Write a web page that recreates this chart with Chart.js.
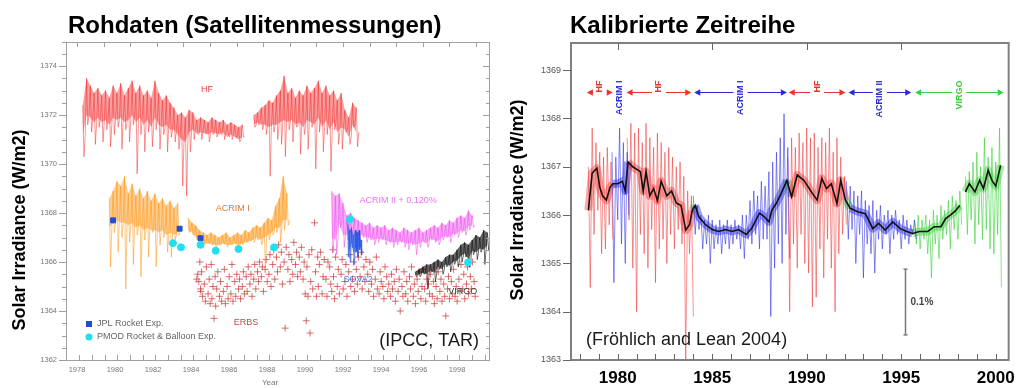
<!DOCTYPE html>
<html>
<head>
<meta charset="utf-8">
<script src="https://cdn.jsdelivr.net/npm/chart.js@4.4.0/dist/chart.umd.min.js"></script>
<style>
  html, body { margin: 0; padding: 0; background: #fff; }
  #wrap { position: relative; width: 1023px; height: 388px; overflow: hidden; }
  #rawBox { position: absolute; left: 0; top: 0; }
  #calBox { position: absolute; left: 500px; top: 0; }
</style>
</head>
<body>
<div id="wrap">
  <div id="rawBox"><canvas id="rawChart" width="500" height="388"></canvas></div>
  <div id="calBox"><canvas id="calChart" width="523" height="388"></canvas></div>
</div>
<script>
const FONT = "'Liberation Sans', Arial, Helvetica, sans-serif";
const STEP = 0.2; // years between readings of the noisy series

// ================== LEFT: RAW SATELLITE DATA ==================
const rawYearTicks = [1978, 1980, 1982, 1984, 1986, 1988, 1990, 1992, 1994, 1996, 1998];
const rawValueTicks = [1362, 1364, 1366, 1368, 1370, 1372, 1374];

// each noisy record: Hi = top of the dense band, Base = bottom of the band, Lo = tip of the downward spikes

// HF (Nimbus 7), first part
const hfRaw1Start = 1978.3;
const hfRaw1Hi = [1372.4, 1373.5, 1373.2, 1372.9, 1373.1, 1372.8, 1373.0, 1372.7, 1373.2, 1372.9,
  1373.3, 1372.8, 1373.1, 1373.4, 1372.9, 1373.2, 1372.8, 1373.0, 1372.7, 1373.4,
  1372.9, 1372.6, 1372.8, 1372.5, 1372.3, 1372.0, 1372.1, 1371.9, 1372.2, 1372.1,
  1371.8, 1371.9, 1371.8, 1371.7, 1371.9, 1371.8, 1371.7, 1371.8, 1371.6, 1371.7,
  1371.6, 1371.5, 1371.6];
const hfRaw1Base = [1371.2, 1372.0, 1371.9, 1371.7, 1371.9, 1371.7, 1371.8, 1371.6, 1371.9, 1371.8,
  1371.9, 1371.7, 1371.8, 1372.0, 1371.7, 1371.9, 1371.6, 1371.8, 1371.5, 1371.9,
  1371.6, 1371.5, 1371.6, 1371.4, 1371.4, 1371.2, 1371.0, 1370.9, 1371.3, 1371.4,
  1371.25, 1371.3, 1371.25, 1371.2, 1371.3, 1371.25, 1371.2, 1371.3, 1371.1, 1371.2,
  1371.1, 1371.0, 1371.1];
const hfRaw1Lo = [1370.3, 1371.6, 1371.3, 1370.8, 1371.5, 1370.9, 1371.4, 1370.7, 1371.2, 1371.5,
  1370.6, 1371.4, 1370.9, 1371.6, 1369.6, 1371.2, 1370.5, 1371.3, 1370.7, 1371.4,
  1370.6, 1371.2, 1370.5, 1371.1, 1370.9, 1370.6, 1369.1, 1368.7, 1370.5, 1371.0,
  1371.2, 1371.0, 1371.3, 1370.9, 1371.2, 1371.1, 1371.3, 1371.0, 1371.2, 1371.0,
  1371.1, 1370.9, 1371.1];
// HF, second part
const hfRaw2Start = 1987.3;
const hfRaw2Hi = [1372.0, 1372.1, 1372.3, 1372.4, 1372.6, 1372.5, 1372.8, 1373.0, 1373.6, 1372.9,
  1373.1, 1372.7, 1373.0, 1372.8, 1373.2, 1372.9, 1373.1, 1373.4, 1372.9, 1373.2,
  1372.8, 1373.0, 1372.6, 1372.9, 1372.2, 1371.9, 1372.5, 1372.3];
const hfRaw2Base = [1371.6, 1371.7, 1371.6, 1371.6, 1371.5, 1371.6, 1371.6, 1371.7, 1371.8, 1371.7,
  1371.8, 1371.6, 1371.7, 1371.5, 1371.8, 1371.7, 1371.6, 1371.9, 1371.5, 1371.8,
  1371.4, 1371.7, 1371.3, 1371.5, 1371.4, 1371.1, 1371.6, 1371.3];
const hfRaw2Lo = [1371.5, 1371.6, 1371.4, 1371.2, 1369.5, 1371.3, 1371.0, 1370.8, 1370.3, 1371.4,
  1370.9, 1371.5, 1370.4, 1371.2, 1370.6, 1371.5, 1369.8, 1371.3, 1370.5, 1371.2,
  1369.7, 1371.4, 1370.8, 1370.6, 1371.3, 1370.8, 1371.5, 1370.7];

// ACRIM I
const acrim1Raw1Start = 1979.7;
const acrim1Raw1Hi = [1368.6, 1368.9, 1369.3, 1369.1, 1369.5, 1368.8, 1369.2, 1368.7, 1369.0, 1368.6,
  1368.9, 1368.5, 1368.8, 1368.4, 1368.6, 1368.3, 1368.5, 1368.2, 1368.4];
const acrim1Raw1Base = [1367.4, 1367.6, 1367.7, 1367.6, 1367.6, 1367.5, 1367.6, 1367.4, 1367.5, 1367.3,
  1367.4, 1367.3, 1367.3, 1367.2, 1367.3, 1367.1, 1367.2, 1367.1, 1367.2];
const acrim1Raw1Lo = [1365.8, 1367.2, 1366.4, 1367.0, 1364.9, 1366.8, 1365.9, 1367.1, 1365.4, 1366.9,
  1366.2, 1367.2, 1365.8, 1366.7, 1367.0, 1366.4, 1366.2, 1366.9, 1367.1];
const acrim1Raw2Start = 1983.85;
const acrim1Raw2Hi = [1367.8, 1367.6, 1367.5, 1367.3, 1367.2, 1367.1, 1367.2, 1367.1, 1367.0, 1367.1,
  1367.2, 1367.0, 1367.1, 1367.2, 1367.1, 1367.3, 1367.2, 1367.4, 1367.5, 1367.4,
  1367.6, 1367.8, 1367.7, 1368.3, 1368.6, 1369.5, 1368.8];
const acrim1Raw2Base = [1367.3, 1367.2, 1367.0, 1366.9, 1366.8, 1366.75, 1366.75, 1366.7, 1366.7, 1366.75,
  1366.7, 1366.7, 1366.75, 1366.7, 1366.75, 1366.8, 1366.85, 1366.9, 1367.0, 1366.9,
  1367.0, 1367.1, 1367.2, 1367.4, 1367.4, 1367.7, 1367.7];
const acrim1Raw2Lo = [1367.2, 1367.1, 1366.9, 1366.8, 1366.7, 1366.8, 1366.7, 1366.6, 1366.7, 1366.8,
  1366.6, 1366.7, 1366.8, 1366.6, 1366.7, 1366.8, 1366.9, 1366.8, 1366.9, 1366.7,
  1365.7, 1366.9, 1367.1, 1367.2, 1366.8, 1367.3, 1367.5];

// ACRIM II + 0.120%
const acrim2RawStart = 1991.4;
const acrim2RawHi = [1368.9, 1368.7, 1368.8, 1368.4, 1367.9, 1368.0, 1367.8, 1367.7, 1367.6, 1367.5,
  1367.6, 1367.4, 1367.5, 1367.4, 1367.5, 1367.3, 1367.4, 1367.3, 1367.2, 1367.4,
  1367.3, 1367.2, 1367.3, 1367.4, 1367.2, 1367.3, 1367.4, 1367.5, 1367.4, 1367.6,
  1367.5, 1367.7, 1367.6, 1367.8, 1367.9, 1367.8, 1368.1, 1367.9];
const acrim2RawBase = [1367.0, 1366.9, 1367.6, 1367.1, 1367.1, 1367.2, 1367.05, 1367.1, 1367.1, 1367.0,
  1367.0, 1366.9, 1366.95, 1366.95, 1366.9, 1366.85, 1366.8, 1366.8, 1366.85, 1366.8,
  1366.75, 1366.8, 1366.7, 1366.75, 1366.85, 1366.75, 1366.95, 1366.9, 1366.85, 1367.0,
  1367.05, 1367.0, 1367.15, 1367.15, 1367.3, 1367.25, 1367.45, 1367.5];
const acrim2RawLo = [1366.4, 1366.3, 1367.4, 1366.6, 1366.9, 1367.0, 1366.8, 1366.9, 1367.0, 1366.8,
  1366.9, 1366.7, 1366.8, 1366.9, 1366.7, 1366.8, 1366.6, 1366.7, 1366.8, 1366.6,
  1366.5, 1366.7, 1366.3, 1366.6, 1366.8, 1366.6, 1366.9, 1366.8, 1366.7, 1366.9,
  1367.0, 1366.8, 1367.1, 1367.0, 1367.2, 1367.1, 1367.3, 1367.4];

// SOVA2 (0.1 year steps)
const sova2Start = 1992.25;
const sova2Hi = [1367.6, 1367.3, 1367.4, 1367.1, 1367.3, 1367.2, 1367.3, 1366.9];
const sova2Base = [1366.6, 1366.4, 1366.8, 1366.3, 1366.6, 1366.4, 1366.7, 1366.5];
const sova2Lo = [1366.2, 1366.0, 1366.6, 1365.9, 1366.4, 1366.2, 1366.5, 1366.3];

// VIRGO
const virgoRawStart = 1995.8;
const virgoRawHi = [1365.6, 1365.7, 1365.8, 1365.9, 1365.9, 1366.0, 1366.1, 1366.0, 1366.2, 1366.3,
  1366.3, 1366.5, 1366.7, 1366.8, 1366.7, 1366.9, 1367.1, 1367.0, 1367.3, 1367.2];
const virgoRawBase = [1365.45, 1365.5, 1365.55, 1365.5, 1365.65, 1365.55, 1365.8, 1365.7, 1365.9, 1365.85,
  1366.0, 1366.05, 1366.25, 1366.35, 1366.1, 1366.45, 1366.4, 1366.55, 1366.5, 1366.7];
const virgoRawLo = [1365.4, 1365.4, 1365.5, 1364.9, 1365.6, 1365.2, 1365.7, 1365.5, 1365.8, 1365.6,
  1365.9, 1365.8, 1366.0, 1366.2, 1365.8, 1366.3, 1366.1, 1366.4, 1365.9, 1366.5];

// ERBS: readings grouped per 0.2 year bin, starting 1984.3
const erbsStart = 1984.3;
const erbsValues = [
  [1365.3, 1365.5, 1365.2, 1366.0, 1364.8], [1364.9, 1365.6, 1364.6], [1365.1, 1364.4, 1365.8],
  [1364.7, 1365.3, 1364.3, 1365.9], [1364.5, 1365.0, 1363.7, 1365.4], [1364.2, 1364.9, 1365.6],
  [1364.6, 1365.2, 1364.4], [1364.8, 1365.7, 1364.3], [1365.0, 1364.5, 1365.4],
  [1364.7, 1365.9, 1364.4], [1365.2, 1364.6, 1365.5], [1364.9, 1365.3, 1364.5],
  [1365.0, 1365.6, 1364.7], [1365.4, 1364.8, 1365.8], [1365.1, 1365.5, 1364.6],
  [1365.3, 1365.9, 1364.9], [1365.6, 1365.2, 1366.0], [1365.4, 1365.8, 1364.8],
  [1365.7, 1366.1, 1365.2], [1365.5, 1366.3, 1365.0], [1365.9, 1366.5, 1365.3],
  [1366.2, 1365.6, 1366.7], [1365.8, 1366.4, 1365.1], [1366.0, 1363.3, 1366.6],
  [1365.7, 1366.3, 1365.2], [1366.1, 1365.5, 1366.8], [1365.9, 1366.4, 1365.4],
  [1366.2, 1365.6, 1366.6], [1365.3, 1366.0, 1364.7, 1363.6], [1365.8, 1364.6, 1366.3, 1363.1],
  [1365.2, 1366.5, 1364.9], [1367.6, 1365.6, 1364.6, 1366.2], [1365.0, 1365.9, 1366.4],
  [1364.7, 1365.4, 1366.1], [1365.3, 1364.6, 1366.0], [1365.8, 1365.1, 1364.8, 1366.5],
  [1365.4, 1364.5, 1366.2], [1365.0, 1365.7, 1364.7], [1365.5, 1366.1, 1364.9],
  [1365.2, 1365.9, 1364.6], [1365.6, 1366.3, 1365.0], [1365.3, 1366.0, 1364.8],
  [1365.7, 1365.1, 1366.2], [1365.4, 1366.4, 1364.9], [1365.8, 1365.2, 1366.1],
  [1365.5, 1364.8, 1366.0], [1365.1, 1365.7, 1364.6], [1365.3, 1366.2, 1364.9],
  [1364.7, 1365.6, 1365.2], [1365.0, 1364.5, 1365.8], [1365.4, 1364.8, 1365.1],
  [1364.6, 1365.5, 1364.9], [1365.2, 1364.4, 1365.7], [1364.8, 1365.3, 1364.0],
  [1365.0, 1364.6, 1365.6], [1364.7, 1365.2, 1364.4], [1365.4, 1364.9, 1365.8],
  [1364.6, 1365.1, 1364.3], [1365.3, 1364.8, 1365.6], [1364.5, 1365.0, 1365.7],
  [1364.9, 1364.4, 1365.3], [1365.1, 1364.7, 1365.5], [1364.6, 1365.2, 1364.3],
  [1365.0, 1364.5, 1365.6], [1364.8, 1365.3, 1364.4], [1365.1, 1364.6, 1363.8],
  [1364.9, 1365.4, 1364.5], [1365.2, 1364.7, 1365.7], [1364.6, 1365.0, 1364.4],
  [1365.3, 1364.8, 1365.9], [1364.9, 1365.5, 1364.5], [1365.1, 1365.8, 1364.7],
  [1365.4, 1364.9, 1366.0], [1365.2, 1364.6]
];

// rocket / balloon calibration flights
const jplYears = [1979.9, 1983.4, 1984.5];
const jplValues = [1367.7, 1367.36, 1366.97];
const pmodYears = [1983.05, 1983.47, 1984.5, 1985.3, 1986.5, 1988.37, 1992.37, 1998.58];
const pmodValues = [1366.77, 1366.6, 1366.7, 1366.46, 1366.53, 1366.6, 1367.75, 1365.98];

// in-plot instrument names
const rawLabelText = ["HF", "ACRIM I", "ACRIM II + 0.120%", "SOVA2", "VIRGO", "ERBS"];
const rawLabelYear = [1984.84, 1986.2, 1994.9, 1992.8, 1998.3, 1986.9];
const rawLabelValue = [1373.06, 1368.2, 1368.5, 1365.27, 1364.8, 1363.55];
const rawLabelColor = ["#f04040", "#e07a2c", "#f070f0", "#5070e0", "#3a3a3a", "#c84848"];

// ================== RIGHT: CALIBRATED COMPOSITE ==================
const calYearTicks = [1980, 1985, 1990, 1995, 2000];
const calValueTicks = [1363, 1364, 1365, 1366, 1367, 1368, 1369];

const calHf1Start = 1978.45;
const calHf1Hi = [1367.0, 1367.8, 1367.5, 1367.3, 1367.2, 1367.4, 1367.1];
const calHf1Lo = [1364.5, 1365.6, 1366.1, 1365.2, 1365.3, 1365.8, 1365.5];
const calAcrim1aStart = 1979.7;
const calAcrim1aHi = [1367.3, 1367.2, 1367.8, 1367.5, 1367.3];
const calAcrim1aLo = [1364.6, 1365.9, 1365.4, 1365.0, 1366.0];
const calHf2Start = 1980.5;
const calHf2Hi = [1367.6, 1367.9, 1367.7, 1367.8, 1367.5, 1367.9, 1367.6, 1367.4, 1367.7, 1367.5,
  1367.3, 1367.4, 1367.2, 1367.0, 1367.1, 1366.8, 1366.5, 1366.4];
const calHf2Lo = [1365.9, 1364.9, 1364.0, 1365.6, 1365.2, 1364.9, 1365.7, 1364.6, 1365.3, 1365.5,
  1365.0, 1365.6, 1365.3, 1365.7, 1365.4, 1363.0, 1365.2, 1363.9];
const calAcrim1bStart = 1984.0;
const calAcrim1bHi = [1366.4, 1366.2, 1366.0, 1365.9, 1366.0, 1365.9, 1365.8, 1365.9, 1365.8, 1365.9,
  1365.8, 1365.9, 1365.8, 1366.0, 1366.0, 1366.3, 1366.5, 1366.4, 1366.7, 1366.6,
  1366.9, 1367.1, 1367.3, 1367.6, 1368.1, 1367.4];
const calAcrim1bLo = [1365.6, 1365.7, 1365.3, 1365.4, 1365.0, 1365.3, 1365.4, 1365.2, 1365.4, 1365.3,
  1365.4, 1365.5, 1365.3, 1365.1, 1365.5, 1365.4, 1365.6, 1365.3, 1365.5, 1365.5,
  1363.9, 1364.9, 1365.4, 1365.0, 1365.6, 1365.1];
const calHf3Start = 1989.0;
const calHf3Hi = [1367.2, 1367.6, 1367.4, 1367.7, 1367.5, 1367.8, 1367.6, 1367.7, 1367.4, 1367.6,
  1367.5, 1367.8, 1367.3, 1367.6, 1367.2, 1366.8];
const calHf3Lo = [1364.0, 1365.4, 1364.9, 1365.6, 1365.0, 1364.8, 1364.1, 1364.3, 1365.3, 1364.7,
  1365.5, 1364.9, 1364.0, 1365.2, 1365.6, 1365.8];
const calAcrim2Start = 1992.1;
const calAcrim2Hi = [1366.7, 1366.6, 1366.5, 1366.4, 1366.5, 1366.3, 1366.2, 1366.3, 1366.1, 1366.2,
  1366.0, 1366.1, 1366.0, 1366.1, 1365.9, 1366.0, 1365.9, 1365.8, 1365.9];
const calAcrim2Lo = [1365.5, 1365.7, 1365.0, 1365.6, 1364.7, 1365.4, 1365.2, 1364.8, 1365.5, 1365.3,
  1365.6, 1365.2, 1365.5, 1365.6, 1365.3, 1365.5, 1365.4, 1365.6, 1365.5];
const calVirgo1Start = 1995.7;
const calVirgo1Hi = [1365.9, 1366.0, 1365.9, 1366.0, 1365.9, 1366.1, 1366.0, 1366.2, 1366.1, 1366.3,
  1366.4, 1366.3, 1366.5];
const calVirgo1Lo = [1365.4, 1365.3, 1365.5, 1365.2, 1364.7, 1365.4, 1365.1, 1365.5, 1365.6, 1365.3,
  1365.7, 1365.5, 1365.8];
const calVirgo2Start = 1998.4;
const calVirgo2Hi = [1366.8, 1366.9, 1367.1, 1367.3, 1367.0, 1367.6, 1367.2, 1367.4, 1367.1, 1367.8];
const calVirgo2Lo = [1365.6, 1365.9, 1365.4, 1365.8, 1365.5, 1365.7, 1365.3, 1365.2, 1365.6, 1364.5];

// 81-day running mean (black)
const calMeanYear = [1978.45, 1978.65, 1978.9, 1979.05, 1979.2, 1979.4, 1979.6, 1979.75, 1980.0, 1980.25,
  1980.4, 1980.55, 1980.8, 1981.2, 1981.35, 1981.5, 1981.7, 1981.9, 1982.1, 1982.3,
  1982.6, 1982.85, 1983.1, 1983.35, 1983.6, 1983.8, 1983.95, 1984.1, 1984.3, 1984.65,
  1985.0, 1985.35, 1985.7, 1986.05, 1986.4, 1986.8, 1987.1, 1987.5, 1987.75, 1988.0,
  1988.15, 1988.4, 1988.65, 1988.95, 1989.2, 1989.5, 1989.85, 1990.3, 1990.55, 1990.8,
  1991.05, 1991.3, 1991.6, 1991.8, 1992.05, 1992.3, 1992.7, 1993.1, 1993.5, 1993.8,
  1994.15, 1994.55, 1994.95, 1995.3, 1995.6, 1995.95, 1996.4, 1996.75, 1997.1, 1997.35,
  1997.6, 1997.85, 1998.1, 1998.25, 1998.4, 1998.6, 1998.9, 1999.15, 1999.35, 1999.6,
  1999.8, 2000.0, 2000.26];
const calMeanValue = [1366.1, 1366.87, 1366.97, 1366.58, 1366.4, 1366.31, 1366.58, 1366.65, 1366.65, 1366.7,
  1366.5, 1367.1, 1367.0, 1366.9, 1366.5, 1366.9, 1366.4, 1366.55, 1366.3, 1366.7,
  1366.4, 1366.5, 1366.25, 1366.2, 1365.69, 1365.8, 1366.1, 1366.2, 1365.96, 1365.8,
  1365.7, 1365.66, 1365.7, 1365.66, 1365.7, 1365.6, 1365.73, 1366.04, 1365.97, 1365.86,
  1366.1, 1366.25, 1366.45, 1366.72, 1366.38, 1366.83, 1366.72, 1366.45, 1366.31, 1366.76,
  1366.55, 1366.65, 1366.24, 1366.72, 1366.31, 1366.14, 1366.07, 1366.03, 1365.72, 1365.83,
  1365.69, 1365.86, 1365.72, 1365.66, 1365.62, 1365.66, 1365.66, 1365.76, 1365.76, 1365.93,
  1366.0, 1366.08, 1366.2, null, 1366.48, 1366.65, 1366.48, 1366.72, 1366.55, 1366.93,
  1366.72, 1366.6, 1367.03];

// instrument periods used in the composite
const periodNames = ["HF", "ACRIM I", "HF", "ACRIM I", "HF", "ACRIM II", "VIRGO"];
const periodStart = [1978.37, 1979.74, 1980.47, 1984.05, 1989.05, 1992.21, 1995.74];
const periodEnd = [1979.74, 1980.47, 1983.89, 1988.95, 1992.05, 1995.53, 2000.42];
const periodColor = ["#e8352e", "#2a2ad6", "#e8352e", "#2a2ad6", "#e8352e", "#2a2ad6", "#3ccf3c"];
const periodBand = ["rgba(240,40,40,0.4)", "rgba(40,40,225,0.45)", "rgba(240,40,40,0.4)",
  "rgba(40,40,225,0.45)", "rgba(240,40,40,0.4)", "rgba(40,40,225,0.45)", "rgba(40,200,40,0.4)"];

// ================== HELPERS ==================
function zigzag(start, step, hi, lo) {
  const pts = [];
  hi.forEach((h, i) => {
    pts.push({ x: start + i * step, y: h });
    pts.push({ x: start + (i + 0.5) * step, y: lo[i] });
  });
  return pts;
}

// top -> spike tip -> band bottom, per reading
function zigzag3(start, step, hi, lo, base) {
  const pts = [];
  hi.forEach((h, i) => {
    pts.push({ x: start + i * step, y: h });
    pts.push({ x: start + (i + 0.33) * step, y: lo[i] });
    pts.push({ x: start + (i + 0.66) * step, y: base[i] });
  });
  return pts;
}

function series(start, step, values) {
  return values.map((v, i) => ({ x: start + i * step, y: v }));
}

function noisy(data, color, width) {
  return { type: "line", data, borderColor: color, borderWidth: width || 1, pointRadius: 0, tension: 0, order: 5 };
}

// dense band (filled between Hi and Base) plus thin spikes
function addBand(list, start, step, hi, base, lo, lineColor, bandColor) {
  const idx = list.length;
  list.push({ type: "line", data: series(start, step, hi), borderColor: "transparent", borderWidth: 0,
    pointRadius: 0, tension: 0, fill: false, order: 5 });
  list.push({ type: "line", data: series(start, step, base), borderColor: "transparent", borderWidth: 0,
    pointRadius: 0, tension: 0, fill: { target: idx }, backgroundColor: bandColor, order: 5 });
  list.push(noisy(zigzag3(start, step, hi, lo, base), lineColor, 0.9));
}

function pairs(xs, ys) {
  return xs.map((x, i) => ({ x, y: ys[i] }));
}

function tick(ctx, x1, y1, x2, y2) {
  ctx.beginPath();
  ctx.moveTo(x1, y1);
  ctx.lineTo(x2, y2);
  ctx.stroke();
}

function vText(ctx, text, x, y, font, color, align) {
  ctx.save();
  ctx.translate(x, y);
  ctx.rotate(-Math.PI / 2);
  ctx.font = font;
  ctx.fillStyle = color;
  ctx.textAlign = align || "center";
  ctx.textBaseline = "middle";
  ctx.fillText(text, 0, 0);
  ctx.restore();
}

function bandColorAt(year) {
  for (let i = 0; i < periodStart.length; i++) {
    if (year >= periodStart[i] - 0.05 && year < periodEnd[i]) return periodBand[i];
  }
  return periodBand[periodBand.length - 1];
}

const erbsPoints = [];
erbsValues.forEach((bin, i) => {
  bin.forEach((v, j) => erbsPoints.push({ x: erbsStart + i * STEP + j * 0.055, y: v }));
});

// ================== LEFT CHART ==================
const rawDecor = {
  id: "rawDecor",
  afterDraw(chart) {
    const { ctx, chartArea: a, scales: { x, y } } = chart;
    ctx.save();
    ctx.strokeStyle = "#a0a0a0";
    ctx.lineWidth = 1;
    ctx.strokeRect(a.left + 0.5, a.top + 0.5, a.right - a.left - 1, a.bottom - a.top);
    for (let v = 1362; v <= 1375; v += 0.5) {
      const py = Math.round(y.getPixelForValue(v)) + 0.5;
      const len = v % 2 === 0 ? 7 : 4;
      tick(ctx, a.left - len, py, a.left, py);
      tick(ctx, a.right - len, py, a.right, py);
    }
    for (let t = 1978.13; t < 1999.7; t += 2 / 3) {
      const px = Math.round(x.getPixelForValue(t)) + 0.5;
      tick(ctx, px, a.bottom, px, a.bottom - 5);
    }
    for (let t = 1978.0; t < 1999.7; t += 1.4) {
      const px = Math.round(x.getPixelForValue(t)) + 0.5;
      tick(ctx, px, a.top, px, a.top + 5);
    }

    // instrument names
    ctx.font = "9px " + FONT;
    ctx.textAlign = "center";
    ctx.textBaseline = "middle";
    rawLabelText.forEach((t, i) => {
      ctx.fillStyle = rawLabelColor[i];
      ctx.fillText(t, x.getPixelForValue(rawLabelYear[i]), y.getPixelForValue(rawLabelValue[i]));
    });

    // legend
    ctx.fillStyle = "#1f4fd0";
    ctx.fillRect(86, 321, 6, 6);
    ctx.fillStyle = "#20e0f0";
    ctx.beginPath();
    ctx.arc(89, 337, 3.5, 0, Math.PI * 2);
    ctx.fill();
    ctx.fillStyle = "#666";
    ctx.textAlign = "left";
    ctx.fillText("JPL Rocket Exp.", 97, 324);
    ctx.fillText("PMOD Rocket & Balloon Exp.", 97, 337);

    // source
    ctx.font = "18px " + FONT;
    ctx.fillStyle = "#1a1a1a";
    ctx.textAlign = "right";
    ctx.fillText("(IPCC, TAR)", 479, 341);

    // axis titles
    ctx.font = "8px " + FONT;
    ctx.fillStyle = "#777";
    ctx.textAlign = "center";
    ctx.fillText("Year", 270, 383);
    vText(ctx, "Solar Irradiance (W/m2)", 20, 230, "bold 18px " + FONT, "#000");

    // title
    ctx.font = "bold 24px " + FONT;
    ctx.fillStyle = "#000";
    ctx.textAlign = "left";
    ctx.textBaseline = "alphabetic";
    ctx.fillText("Rohdaten (Satellitenmessungen)", 68, 33);
    ctx.restore();
  }
};

const rawSets = [
  { type: "scatter", data: pairs(pmodYears, pmodValues), pointStyle: "circle", pointRadius: 3.5,
    backgroundColor: "#20e0f0", borderColor: "#20e0f0", order: 0 },
  { type: "scatter", data: pairs(jplYears, jplValues), pointStyle: "rect", pointRadius: 3.5,
    backgroundColor: "#1f4fd0", borderColor: "#1f4fd0", order: 1 },
  { type: "scatter", data: erbsPoints, pointStyle: "cross", pointRadius: 3.5, borderWidth: 1,
    borderColor: "rgba(205,60,60,0.75)", order: 6 }
];
addBand(rawSets, virgoRawStart, STEP, virgoRawHi, virgoRawBase, virgoRawLo, "rgba(20,20,20,0.7)", "rgba(20,20,20,0.65)");
addBand(rawSets, sova2Start, 0.1, sova2Hi, sova2Base, sova2Lo, "rgba(30,80,230,0.7)", "rgba(30,80,230,0.6)");
addBand(rawSets, acrim2RawStart, STEP, acrim2RawHi, acrim2RawBase, acrim2RawLo, "rgba(240,70,240,0.6)", "rgba(240,70,240,0.45)");
addBand(rawSets, acrim1Raw1Start, STEP, acrim1Raw1Hi, acrim1Raw1Base, acrim1Raw1Lo, "rgba(255,150,20,0.6)", "rgba(255,145,10,0.45)");
addBand(rawSets, acrim1Raw2Start, STEP, acrim1Raw2Hi, acrim1Raw2Base, acrim1Raw2Lo, "rgba(255,150,20,0.6)", "rgba(255,145,10,0.5)");
addBand(rawSets, hfRaw1Start, STEP, hfRaw1Hi, hfRaw1Base, hfRaw1Lo, "rgba(245,40,40,0.55)", "rgba(240,30,30,0.42)");
addBand(rawSets, hfRaw2Start, STEP, hfRaw2Hi, hfRaw2Base, hfRaw2Lo, "rgba(245,40,40,0.55)", "rgba(240,30,30,0.42)");

new Chart(document.getElementById("rawChart"), {
  data: { datasets: rawSets },
  options: {
    responsive: false,
    animation: false,
    events: [],
    layout: { padding: { left: 0, right: 10, top: 42, bottom: 0 } },
    plugins: { legend: { display: false }, tooltip: { enabled: false } },
    scales: {
      x: {
        type: "linear", min: 1977.42, max: 1999.737,
        grid: { display: false, drawTicks: false }, border: { display: false },
        afterBuildTicks: (s) => { s.ticks = rawYearTicks.map((v) => ({ value: v })); },
        afterFit: (s) => { s.height = 28; },
        ticks: { padding: 5, color: "#777", font: { size: 7.5, family: FONT }, maxRotation: 0, callback: (v) => String(v) }
      },
      y: {
        type: "linear", min: 1362, max: 1374.98,
        grid: { display: false, drawTicks: false }, border: { display: false },
        afterBuildTicks: (s) => { s.ticks = rawValueTicks.map((v) => ({ value: v })); },
        afterFit: (s) => { s.width = 66; },
        ticks: { padding: 9, color: "#777", font: { size: 7.5, family: FONT }, callback: (v) => String(v) }
      }
    }
  },
  plugins: [rawDecor]
});

// ================== RIGHT CHART ==================
const calDecor = {
  id: "calDecor",
  afterDraw(chart) {
    const { ctx, chartArea: a, scales: { x, y } } = chart;
    ctx.save();
    ctx.strokeStyle = "#808080";
    ctx.lineWidth = 2;
    ctx.strokeRect(a.left, a.top, a.right - a.left, a.bottom - a.top);
    ctx.lineWidth = 1;
    ctx.strokeStyle = "#666";
    calValueTicks.forEach((v) => {
      const py = Math.round(y.getPixelForValue(v)) + 0.5;
      tick(ctx, a.left - 8, py, a.left, py);
    });
    for (let t = 1978; t <= 2000; t++) {
      const px = Math.round(x.getPixelForValue(t)) + 0.5;
      tick(ctx, px, a.bottom, px, a.bottom - 6);
    }
    calYearTicks.slice(0, 4).forEach((t) => {
      const px = Math.round(x.getPixelForValue(t)) + 0.5;
      tick(ctx, px, a.top, px, a.top + 7);
    });

    // instrument periods with arrows
    const py = Math.round(y.getPixelForValue(1368.555)) + 0.5;
    periodNames.forEach((name, i) => {
      const x1 = x.getPixelForValue(periodStart[i]);
      const x2 = x.getPixelForValue(periodEnd[i]);
      const xm = (x1 + x2) / 2;
      const col = periodColor[i];
      vText(ctx, name, xm, py - 12, "bold 9px " + FONT, col, "right");
      if (x2 - x1 < 20) return; // too short for arrows
      ctx.strokeStyle = col;
      ctx.fillStyle = col;
      ctx.lineWidth = 1;
      tick(ctx, x1 + 4, py, xm - 7, py);
      tick(ctx, xm + 7, py, x2 - 4, py);
      ctx.beginPath();
      ctx.moveTo(x1, py); ctx.lineTo(x1 + 6, py - 3.2); ctx.lineTo(x1 + 6, py + 3.2); ctx.closePath();
      ctx.fill();
      ctx.beginPath();
      ctx.moveTo(x2, py); ctx.lineTo(x2 - 6, py - 3.2); ctx.lineTo(x2 - 6, py + 3.2); ctx.closePath();
      ctx.fill();
    });

    // 0.1% scale bar
    const bx = Math.round(x.getPixelForValue(1995.2)) + 0.5;
    const bTop = y.getPixelForValue(1364.88);
    const bBot = y.getPixelForValue(1363.52);
    ctx.strokeStyle = "#777";
    ctx.lineWidth = 1.5;
    tick(ctx, bx, bTop, bx, bBot);
    tick(ctx, bx - 2, bTop, bx + 2, bTop);
    tick(ctx, bx - 2, bBot, bx + 2, bBot);
    ctx.font = "bold 10px " + FONT;
    ctx.fillStyle = "#444";
    ctx.textAlign = "left";
    ctx.textBaseline = "middle";
    ctx.fillText("0.1%", bx + 5, (bTop + bBot) / 2);

    // source
    ctx.font = "18px " + FONT;
    ctx.fillStyle = "#1a1a1a";
    ctx.fillText("(Fröhlich and Lean 2004)", 86, 340);

    vText(ctx, "Solar Irradiance (W/m2)", 18, 200, "bold 18px " + FONT, "#000");

    ctx.font = "bold 24px " + FONT;
    ctx.fillStyle = "#000";
    ctx.textBaseline = "alphabetic";
    ctx.fillText("Kalibrierte Zeitreihe", 70, 33);
    ctx.restore();
  }
};

const RED = "rgba(240,40,40,0.5)";
const BLUE = "rgba(40,40,230,0.55)";
const GREEN = "rgba(40,205,40,0.55)";

new Chart(document.getElementById("calChart"), {
  data: {
    datasets: [
      { type: "line", data: pairs(calMeanYear, calMeanValue), borderColor: "#111", borderWidth: 1.6,
        pointRadius: 0, tension: 0, spanGaps: false, order: 0 },
      { type: "line", data: pairs(calMeanYear, calMeanValue), borderWidth: 8, pointRadius: 0, tension: 0,
        spanGaps: false, order: 7, borderJoinStyle: "round", borderColor: periodBand[0],
        segment: { borderColor: (c) => bandColorAt(c.p0.parsed.x) } },
      noisy(zigzag(calHf1Start, STEP, calHf1Hi, calHf1Lo), RED),
      noisy(zigzag(calAcrim1aStart, STEP, calAcrim1aHi, calAcrim1aLo), BLUE),
      noisy(zigzag(calHf2Start, STEP, calHf2Hi, calHf2Lo), RED),
      noisy(zigzag(calAcrim1bStart, STEP, calAcrim1bHi, calAcrim1bLo), BLUE),
      noisy(zigzag(calHf3Start, STEP, calHf3Hi, calHf3Lo), RED),
      noisy(zigzag(calAcrim2Start, STEP, calAcrim2Hi, calAcrim2Lo), BLUE),
      noisy(zigzag(calVirgo1Start, STEP, calVirgo1Hi, calVirgo1Lo), GREEN),
      noisy(zigzag(calVirgo2Start, STEP, calVirgo2Hi, calVirgo2Lo), GREEN)
    ]
  },
  options: {
    responsive: false,
    animation: false,
    events: [],
    layout: { padding: { left: 0, right: 12, top: 43, bottom: 0 } },
    plugins: { legend: { display: false }, tooltip: { enabled: false } },
    scales: {
      x: {
        type: "linear", min: 1977.53, max: 2000.684,
        grid: { display: false, drawTicks: false }, border: { display: false },
        afterBuildTicks: (s) => { s.ticks = calYearTicks.map((v) => ({ value: v })); },
        afterFit: (s) => { s.height = 28; },
        ticks: { padding: 8, color: "#000", font: { size: 17, weight: "bold", family: FONT }, maxRotation: 0, callback: (v) => String(v) }
      },
      y: {
        type: "linear", min: 1363, max: 1369.563,
        grid: { display: false, drawTicks: false }, border: { display: false },
        afterBuildTicks: (s) => { s.ticks = calValueTicks.map((v) => ({ value: v })); },
        afterFit: (s) => { s.width = 71; },
        ticks: { padding: 10, color: "#555", font: { size: 9, family: FONT }, callback: (v) => String(v) }
      }
    }
  },
  plugins: [calDecor]
});
</script>
</body>
</html>
